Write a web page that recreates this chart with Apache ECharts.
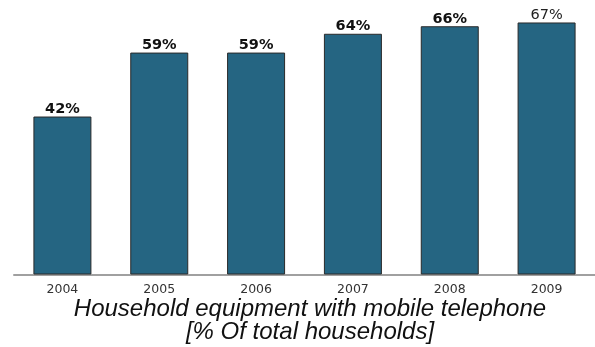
<!DOCTYPE html>
<html>
<head>
<meta charset="utf-8">
<script src="https://cdn.jsdelivr.net/npm/echarts@6/dist/echarts.min.js"></script>
<style>
html,body{margin:0;padding:0;background:#fff;}
#chart{width:595px;height:347px;}
</style>
</head>
<body>
<div id="chart"></div>
<script>
const years = ['2004', '2005', '2006', '2007', '2008', '2009'];
const shares = [42, 59, 59, 64, 66, 67];
const titleLines = ['Household equipment with mobile telephone', '[% Of total households]'];

const chart = echarts.init(document.getElementById('chart'), null, {renderer: 'canvas'});
chart.setOption({
  animation: false,
  backgroundColor: '#ffffff',
  grid: {left: 14, right: 0, top: 11.2, bottom: 72.5, containLabel: false},
  xAxis: {
    type: 'category',
    data: years,
    axisLine: {show: true, lineStyle: {color: '#a0a0a0', width: 2}},
    axisTick: {show: false},
    axisLabel: {color: '#333', fontFamily: 'DejaVu Sans', fontSize: 12.5, margin: 9}
  },
  yAxis: {
    type: 'value', min: 0, max: 70,
    show: false,
    splitLine: {show: false}
  },
  series: [{
    type: 'bar',
    data: shares.map((v, i) => ({
      value: v,
      label: i === shares.length - 1 ? {fontWeight: 'normal', color: '#222'} : {}
    })),
    barWidth: 58,
    itemStyle: {color: '#256582', borderColor: '#2a2a2a', borderWidth: 1},
    label: {
      show: true, position: 'top', distance: 0,
      formatter: p => p.value + '%',
      color: '#111', fontFamily: 'DejaVu Sans', fontSize: 14.5, fontWeight: 'bold'
    }
  }],
  graphic: [{
    type: 'text',
    style: {
      text: titleLines.join('\n'),
      x: 310, y: 298,
      textAlign: 'center', textVerticalAlign: 'top',
      font: 'italic 24px "Liberation Sans", Arial, sans-serif',
      lineHeight: 23,
      fill: '#111'
    }
  }]
});
</script>
</body>
</html>
